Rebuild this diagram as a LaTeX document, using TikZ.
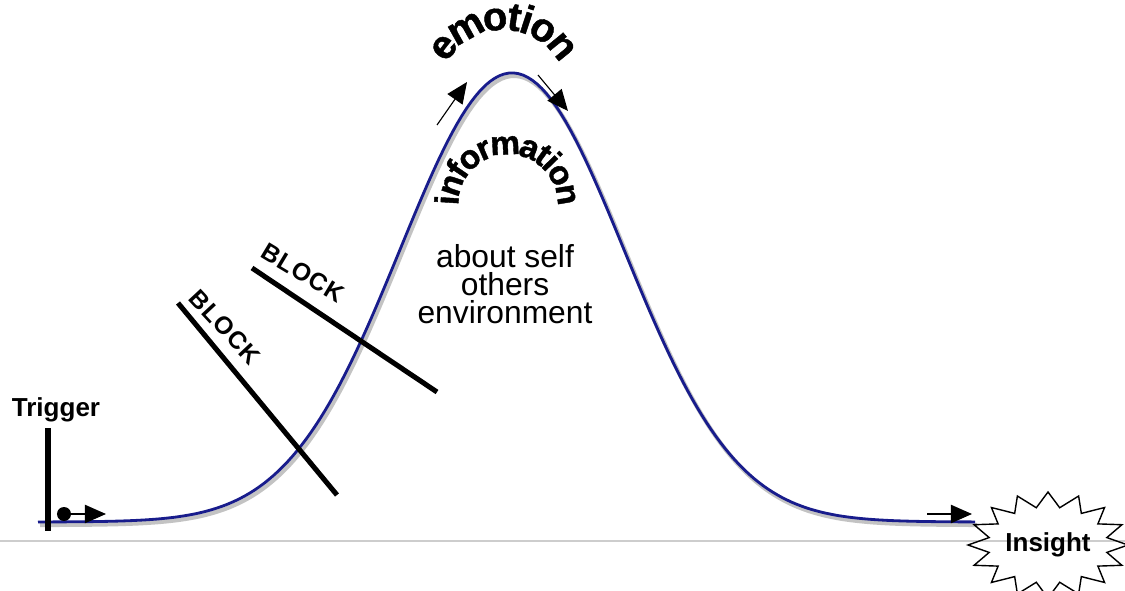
\documentclass[tikz,border=0pt]{standalone}
\usepackage{fontspec}
\setmainfont{Liberation Sans}
\usetikzlibrary{arrows.meta,decorations.text,calc}
\definecolor{curveblue}{RGB}{24,28,140}
\definecolor{shadowgray}{RGB}{195,195,195}
\definecolor{rulegray}{RGB}{205,205,205}

\begin{document}
\begin{tikzpicture}[x=0.025cm, y=-0.025cm,
  lbl/.style={font=\bfseries\fontsize{18.5}{22}\selectfont, inner sep=0pt},
  blocklbl/.style={font=\bfseries\fontsize{17.5}{20}\selectfont\addfontfeature{LetterSpace=4}, inner sep=0pt},
  blockbar/.style={line width=3.6pt},
  tiparrow/.style={-{Triangle[length=15pt,width=13pt]}, line width=1pt},
  infotext/.style={font=\fontsize{22.6}{20}\selectfont, align=center, inner sep=0pt}]
\useasboundingbox (0,0) rectangle (1125,591);
% ground line
\draw[rulegray, line width=0.9pt] (0,541) -- (1125,541);
% bell curve and its shadow
\draw[shadowgray, line width=3pt, shift={(2,3)}] plot[domain=38:975, samples=200] (\x, {522-449*exp(-((\x-512)/112)^2/2)});
\draw[curveblue, line width=2pt] plot[domain=38:975, samples=200] (\x, {522-449*exp(-((\x-512)/112)^2/2)});
% trigger
\draw (56,410) node[lbl] (trigger) {Trigger};
\coordinate (trigtop) at (48,428);
\coordinate (trigbot) at (48,531);
\draw[line width=3.6pt] (trigtop) -- (trigbot);
\draw (64,514) node[circle, fill, inner sep=0pt, minimum size=0.35cm] (dot) {};
\coordinate (go) at (106,514);
\draw[tiparrow] (dot) -- (go);
% blocks
\draw[blockbar] (178,303) -- (337,495);
\draw[blockbar] (252,268) -- (437,392);
\draw (225,327) node[blocklbl, rotate=-47] (block1) {BLOCK};
\draw (303,273) node[blocklbl, rotate=-31] (block2) {BLOCK};
% text under the peak
\draw (505,284) node[infotext] (about) {about self\\others\\environment};
\path[decorate, decoration={text along path, text align=center, raise=-7pt,
  text={|\bfseries\fontsize{28.5}{32}\selectfont\addfontfeature{FakeBold=1.2}|emotion}}]
  (503,94) ++(-200:74) arc[start angle=-200, end angle=20, radius=74];
\path[decorate, decoration={text along path, text align=center, raise=-6pt,
  text={|\bfseries\fontsize{23.8}{28}\selectfont\addfontfeature{FakeBold=1.2}|information}}]
  (508,204) ++(-230:58) arc[start angle=-230, end angle=50, radius=58];
% arrows at the peak
\coordinate (up0) at (437,125);
\coordinate (up1) at (467,82);
\coordinate (dn0) at (538,75);
\coordinate (dn1) at (568,111);
\draw[tiparrow, line width=0.8pt] (up0) -- (up1);
\draw[tiparrow, line width=0.8pt] (dn0) -- (dn1);
% insight
\draw (1048,545) node[lbl] (insight) {Insight};
\coordinate (e0) at (927,514);
\coordinate (e1) at (972,514);
\draw[tiparrow] (e0) -- (e1);
\draw[line width=1pt, shift={(insight.center)}] (78.75:60 and 38)
  \foreach \k in {0,...,15} { -- ({90+22.5*\k}:80 and 53) -- ({101.25+22.5*\k}:60 and 38) } -- cycle;
\end{tikzpicture}
\end{document}
